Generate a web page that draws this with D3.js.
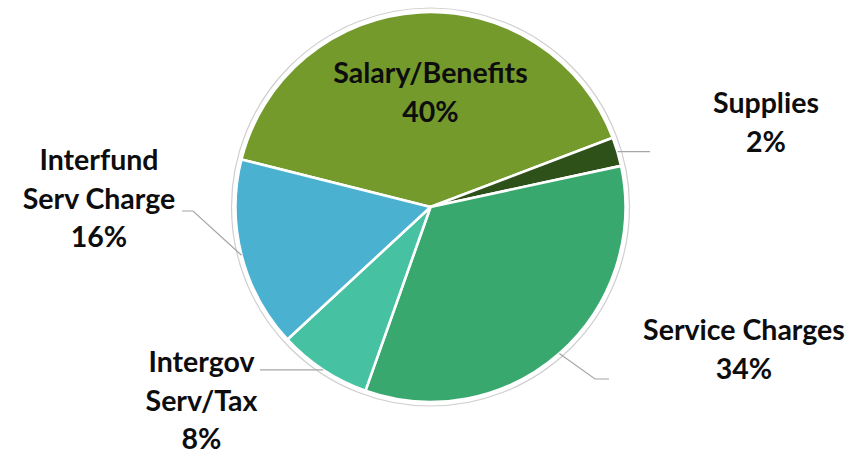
<!DOCTYPE html>
<html>
<head>
<meta charset="utf-8">
<script src="https://cdn.jsdelivr.net/npm/d3@7"></script>
<style>
  html, body { margin: 0; padding: 0; background: #ffffff; }
  svg { display: block; }
  .lbl { font-family: Lato, "Open Sans", sans-serif; font-weight: 700; fill: #0d0d0d; }
</style>
</head>
<body>
<svg id="chart" width="864" height="454"></svg>
<script>
// Expense categories and their shares (percent of total)
const categories = ["Salary/Benefits", "Supplies", "Service Charges", "Intergov Serv/Tax", "Interfund Serv Charge"];
const shares = [40.3, 2.4, 33.8, 7.7, 15.8];
// Label lines as they are broken on the chart
const labelLines = [["Salary/Benefits"], ["Supplies"], ["Service Charges"], ["Intergov", "Serv/Tax"], ["Interfund", "Serv Charge"]];
const colors = ["#749A2C", "#2E5119", "#38A86E", "#46C1A1", "#4BB1D0"];

const W = 864, H = 454;
const cx = 430.5, cy = 207, R = 195;
const svg = d3.select("#chart");
const g = svg.append("g").attr("transform", `translate(${cx},${cy})`);

const data = categories.map((c, i) => ({ name: c, value: shares[i], lines: labelLines[i], color: colors[i] }));
const total = d3.sum(shares);
const startDeg = -75.9;
const pie = d3.pie().value(d => d.value).sort(null)
  .startAngle(startDeg * Math.PI / 180)
  .endAngle((startDeg + 360) * Math.PI / 180);
const arcs = pie(data);
const arc = d3.arc().innerRadius(0).outerRadius(R);

// faint outline ring around the pie
g.append("circle").attr("r", R + 4).attr("fill", "none")
  .attr("stroke", "#cfcfcf").attr("stroke-width", 1.2);

g.selectAll("path.slice").data(arcs).join("path")
  .attr("class", "slice")
  .attr("d", arc)
  .attr("fill", d => d.data.color)
  .attr("stroke", "#ffffff")
  .attr("stroke-width", 2.6)
  .attr("stroke-linejoin", "round");

const pct = d3.format(".0%");
const lineGap = 38.5;

// label placement: [center x, first baseline y] in chart coordinates,
// plus the leader polyline after it leaves the slice edge (null = inside label)
const layout = {
  "Salary/Benefits":       { x: 430.5, y: 83,  leader: null },
  "Supplies":              { x: 766,   y: 113, leader: [[650, null]] },
  "Service Charges":       { x: 744,   y: 340, leader: [[595, 379], [609, 379]] },
  "Intergov Serv/Tax":     { x: 201.5, y: 372, leader: [[260, null]] },
  "Interfund Serv Charge": { x: 99,    y: 170, leader: [[193, 211], [182, 211]] }
};

const edgePoint = d => {
  const a = (d.startAngle + d.endAngle) / 2;
  return [cx + R * Math.sin(a), cy - R * Math.cos(a)];
};

const line = d3.line();
arcs.forEach(d => {
  const L = layout[d.data.name];
  if (L.leader) {
    const p0 = edgePoint(d);
    const pts = [p0];
    L.leader.forEach(([x, y]) => pts.push([x, y === null ? p0[1] : y]));
    svg.append("path").attr("d", line(pts)).attr("fill", "none")
      .attr("stroke", "#A6A6A6").attr("stroke-width", 1.2);
  }
  const t = svg.append("text").attr("class", "lbl")
    .attr("text-anchor", "middle").style("font-size", "28.5px");
  const lines = d.data.lines.concat([pct(d.data.value / total)]);
  lines.forEach((s, i) => {
    t.append("tspan").attr("x", L.x).attr("y", L.y + i * lineGap).text(s);
  });
});
</script>
</body>
</html>
